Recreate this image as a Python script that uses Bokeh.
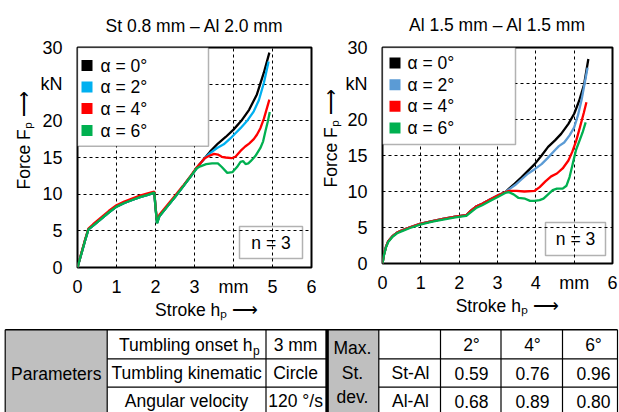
from bokeh.plotting import figure
from bokeh.models import Range1d, FixedTicker, Label, BoxAnnotation
from bokeh.layouts import column, row
from bokeh.embed import file_html
from bokeh.resources import INLINE
from bokeh.core.properties import value

FONT = "Liberation Sans"
NB = "\u00a0"

# ---------------- data ----------------
titles = ["St 0.8 mm \u2013 Al 2.0 mm", "Al 1.5 mm \u2013 Al 1.5 mm"]
y_title = "Force F\u209a \u27f6"
x_title = "Stroke h\u209a \u27f6"
legend_labels = ["\u03b1 = 0\u00b0", "\u03b1 = 2\u00b0", "\u03b1 = 4\u00b0", "\u03b1 = 6\u00b0"]
n_label = "n = 3"
x_ticks = [0, 1, 2, 3, 4, 5, 6]
y_ticks = [0, 5, 10, 15, 20, 25, 30]
y_unit_tick = 25
st_unit_tick = 4
al_unit_tick = 5
colors_st = ["#000000", "#00b0f0", "#ff0000", "#00b050"]
colors_al = ["#000000", "#5b9bd5", "#ff0000", "#00b050"]

# St 0.8 mm - Al 2.0 mm
st_a0_x = [0, 0.1, 0.2, 0.28, 0.4, 0.6, 0.8, 1.0, 1.2, 1.4, 1.6, 1.8, 1.97, 2.0, 2.04, 2.1, 2.3, 2.5, 2.7, 2.9, 3.05,
           3.15, 3.26, 3.4, 3.6, 3.8, 4.0, 4.2, 4.4, 4.6, 4.78, 4.92]
st_a0_y = [0, 1.9, 3.8, 5.2, 5.7, 6.6, 7.5, 8.3, 8.8, 9.2, 9.6, 9.9, 10.2, 8.2, 6.1, 7.0, 8.3, 9.6, 11.0, 12.4, 13.5,
           14.2, 14.9, 15.8, 16.9, 17.8, 18.8, 20.0, 21.5, 23.6, 26.6, 29.3]
st_a2_x = [0, 0.1, 0.2, 0.28, 0.4, 0.6, 0.8, 1.0, 1.2, 1.4, 1.6, 1.8, 1.97, 2.0, 2.04, 2.1, 2.3, 2.5, 2.7, 2.9, 3.05,
           3.15, 3.26, 3.4, 3.58, 3.75, 3.92, 4.05, 4.18, 4.35, 4.52, 4.65, 4.78, 4.9]
st_a2_y = [0, 1.9, 3.8, 5.2, 5.7, 6.6, 7.5, 8.3, 8.8, 9.2, 9.6, 9.9, 10.2, 8.2, 6.1, 7.0, 8.3, 9.6, 11.0, 12.4, 13.5,
           14.2, 14.9, 15.6, 16.3, 16.8, 17.6, 18.3, 19.0, 20.0, 21.3, 22.8, 25.2, 28.1]
st_a4_x = [0, 0.1, 0.2, 0.28, 0.4, 0.6, 0.8, 1.0, 1.2, 1.4, 1.6, 1.8, 1.97, 2.0, 2.04, 2.1, 2.3, 2.5, 2.7, 2.9, 3.05,
           3.15, 3.26, 3.37, 3.5, 3.6, 3.7, 3.8, 3.95, 4.05, 4.18, 4.3, 4.4, 4.52, 4.6, 4.69, 4.78, 4.85, 4.92]
st_a4_y = [0, 2.0, 3.9, 5.3, 5.9, 6.8, 7.7, 8.5, 9.0, 9.4, 9.8, 10.1, 10.35, 8.3, 6.3, 7.2, 8.5, 9.8, 11.1, 12.5, 13.6,
           14.2, 14.9, 15.2, 15.5, 15.4, 15.1, 15.0, 14.9, 15.1, 15.9, 16.5, 16.9, 17.5, 18.1, 19.0, 20.3, 21.6, 22.9]
st_a6_x = [0, 0.1, 0.2, 0.28, 0.4, 0.6, 0.8, 1.0, 1.2, 1.4, 1.6, 1.8, 1.97, 2.0, 2.04, 2.1, 2.3, 2.5, 2.7, 2.9, 3.05,
           3.15, 3.3, 3.45, 3.6, 3.7, 3.84, 3.97, 4.09, 4.18, 4.25, 4.31, 4.38, 4.44, 4.56, 4.69, 4.76, 4.82, 4.88, 4.93]
st_a6_y = [0, 1.9, 3.8, 5.2, 5.7, 6.6, 7.5, 8.3, 8.8, 9.2, 9.6, 9.9, 10.2, 8.2, 6.0, 7.0, 8.3, 9.6, 11.0, 12.4, 13.5,
           13.8, 14.1, 14.2, 14.2, 13.7, 12.9, 13.0, 13.7, 14.4, 14.5, 14.1, 14.2, 14.5, 15.2, 16.3, 17.2, 18.6, 19.9, 21.2]

# Al 1.5 mm - Al 1.5 mm
al_a0_x = [0, 0.04, 0.09, 0.15, 0.26, 0.38, 0.51, 0.7, 0.98, 1.3, 1.58, 1.9, 2.18, 2.3, 2.44, 2.6, 2.78, 3.03, 3.2,
           3.3, 3.45, 3.63, 3.8, 3.97, 4.15, 4.32, 4.5, 4.66, 4.85, 5.0, 5.13, 5.26, 5.37]
al_a0_y = [0, 1.3, 2.3, 3.1, 3.8, 4.3, 4.6, 5.0, 5.5, 5.9, 6.2, 6.5, 6.7, 7.3, 7.9, 8.3, 8.8, 9.5, 9.9,
           10.4, 11.1, 12.0, 12.9, 13.8, 15.0, 16.2, 17.1, 18.0, 19.4, 20.8, 22.6, 24.9, 28.4]
al_a2_x = [0, 0.04, 0.09, 0.15, 0.26, 0.38, 0.51, 0.7, 0.98, 1.3, 1.58, 1.9, 2.18, 2.3, 2.44, 2.6, 2.78, 3.03, 3.2,
           3.3, 3.46, 3.63, 3.8, 3.97, 4.15, 4.3, 4.49, 4.6, 4.74, 4.88, 5.0, 5.1, 5.2, 5.28, 5.35]
al_a2_y = [0, 1.3, 2.3, 3.1, 3.8, 4.3, 4.6, 5.0, 5.5, 5.9, 6.2, 6.5, 6.7, 7.3, 7.9, 8.3, 8.8, 9.5, 9.9,
           10.3, 10.9, 11.7, 12.5, 13.1, 13.8, 14.6, 15.7, 16.3, 16.8, 17.8, 18.9, 20.6, 22.9, 25.2, 27.2]
al_a4_x = [0, 0.04, 0.09, 0.15, 0.26, 0.38, 0.51, 0.7, 0.98, 1.3, 1.58, 1.9, 2.18, 2.3, 2.44, 2.6, 2.78, 3.03, 3.2,
           3.3, 3.5, 3.7, 3.97, 4.1, 4.25, 4.4, 4.55, 4.7, 4.85, 4.95, 5.05, 5.15, 5.25, 5.32]
al_a4_y = [0, 1.3, 2.3, 3.1, 3.8, 4.3, 4.6, 5.0, 5.5, 5.9, 6.2, 6.5, 6.7, 7.3, 7.9, 8.3, 8.8, 9.5, 9.9,
           10.1, 10.1, 10.0, 10.1, 10.6, 11.4, 12.1, 12.5, 13.2, 14.3, 15.5, 17.0, 18.9, 20.9, 22.4]
al_a6_x = [0, 0.04, 0.09, 0.15, 0.26, 0.38, 0.51, 0.7, 0.98, 1.3, 1.58, 1.9, 2.18, 2.3, 2.44, 2.6, 2.78, 3.03, 3.2,
           3.3, 3.42, 3.55, 3.72, 3.85, 3.97, 4.1, 4.2, 4.3, 4.44, 4.55, 4.7, 4.8, 4.88, 4.96, 5.05, 5.15, 5.22, 5.3]
al_a6_y = [0, 1.2, 2.2, 3.0, 3.7, 4.2, 4.5, 4.9, 5.4, 5.8, 6.1, 6.4, 6.6, 7.1, 7.7, 8.1, 8.6, 9.3, 9.8,
           9.9, 9.6, 9.1, 9.0, 8.7, 8.7, 8.8, 9.0, 9.5, 10.2, 10.4, 10.4, 10.8, 12.0, 13.8, 15.8, 17.2, 18.2, 19.6]

# table
param_header = "Parameters"
param_names = ["Tumbling onset h", "Tumbling kinematic", "Angular velocity"]
param_sub = "p"
param_values = ["3 mm", "Circle", "120 \u00b0/s"]
dev_header = ["Max.", "St.", "dev."]
dev_angles = ["2\u00b0", "4\u00b0", "6\u00b0"]
dev_pairs = ["St-Al", "Al-Al"]
dev_st_al = [0.59, 0.76, 0.96]
dev_al_al = [0.68, 0.89, 0.80]


# ---------------- charts ----------------
def make_chart(title, xs, ys, colors, unit_tick, cfg):
    L, R, T, B = cfg["frame"]
    xspan = x_ticks[-1] - x_ticks[0]
    yspan = y_ticks[-1] - y_ticks[0]

    def dx(rx):
        return (rx - L) / (R - L) * xspan

    def dy(ry):
        return (B - ry) / (B - T) * yspan

    bl, br, bt, bb = cfg["borders"]
    p = figure(frame_width=cfg["fw"], frame_height=cfg["fh"], min_border_left=bl, min_border_right=br,
               min_border_top=bt, min_border_bottom=bb,
               x_range=Range1d(x_ticks[0], x_ticks[-1]), y_range=Range1d(y_ticks[0], y_ticks[-1]),
               output_backend="svg", toolbar_location=None, tools="", title=title)
    p.title.text_font = FONT
    p.title.text_font_size = "17.5px"
    p.title.text_font_style = "normal"
    p.title.text_color = "black"
    p.title.align = "center"
    p.title.vertical_align = "top"
    p.title.offset = cfg["title_offset"]
    p.title.standoff = cfg["title_standoff"]

    p.background_fill_color = "white"
    p.border_fill_color = "white"
    p.outline_line_color = "black"
    p.outline_line_width = 2
    p.outline_line_alpha = 1

    p.xaxis.ticker = FixedTicker(ticks=x_ticks)
    p.yaxis.ticker = FixedTicker(ticks=y_ticks)
    p.xaxis.major_label_overrides = {unit_tick: "mm"}
    p.yaxis.major_label_overrides = {y_unit_tick: "kN"}
    for ax in (p.xaxis[0], p.yaxis[0]):
        ax.axis_line_color = None
        ax.major_tick_line_color = None
        ax.minor_tick_line_color = None
        ax.major_tick_in = 0
        ax.major_tick_out = 0
        ax.minor_tick_in = 0
        ax.minor_tick_out = 0
        ax.major_label_text_font = FONT
        ax.major_label_text_font_size = "18px"
        ax.major_label_text_color = "black"
        ax.axis_label_text_font = FONT
        ax.axis_label_text_font_size = "17.5px"
        ax.axis_label_text_font_style = "normal"
        ax.axis_label_text_color = "black"
    p.xaxis.major_label_standoff = 9
    p.yaxis.major_label_standoff = cfg["ystand"]
    p.yaxis.axis_label = NB * cfg["y_pad"] + y_title
    p.xaxis.axis_label = NB * cfg["x_pad"] + x_title
    p.yaxis.axis_label_standoff = cfg["ylab_stand"]
    p.xaxis.axis_label_standoff = 0

    p.xgrid.ticker = FixedTicker(ticks=x_ticks[1:-1])
    p.ygrid.ticker = FixedTicker(ticks=y_ticks[1:-1])
    for g in (p.xgrid[0], p.ygrid[0]):
        g.grid_line_color = "black"
        g.grid_line_dash = "3 3"
        g.grid_line_width = 1
        g.grid_line_alpha = 1

    for x, y, c in zip(xs, ys, colors):
        p.line(x, y, line_color=c, line_width=2.3)

    # legend box
    lb = cfg["legend"]
    p.add_layout(BoxAnnotation(left=dx(L), right=dx(lb["right"]), top=dy(T), bottom=dy(lb["bottom"]),
                               fill_color="white", fill_alpha=1, line_color="black", line_width=1.5))
    for lab, c, ry in zip(legend_labels, colors, lb["rows"]):
        p.add_layout(BoxAnnotation(left=dx(lb["sx"] - 5.5), right=dx(lb["sx"] + 5.5),
                                   top=dy(ry - 5.5), bottom=dy(ry + 5.5),
                                   fill_color=c, fill_alpha=1, line_color=None))
        p.add_layout(Label(x=dx(lb["tx"]), y=dy(ry), text=lab, text_font=FONT, text_font_size="17.5px",
                           text_baseline="middle", text_align="left", text_color="black"))

    # n = 3 box
    nb = cfg["nbox"]
    p.add_layout(BoxAnnotation(left=dx(nb[0]), right=dx(nb[1]), top=dy(nb[2]), bottom=dy(nb[3]),
                               fill_alpha=0, line_color="black", line_width=1.5))
    p.add_layout(Label(x=dx((nb[0] + nb[1]) / 2), y=dy((nb[2] + nb[3]) / 2), text=n_label,
                       text_font=FONT, text_font_size="17.5px", text_baseline="middle",
                       text_align="center", text_color="black"))
    return p


CFG_ST = dict(frame=(77.0, 311.0, 43.0, 263.0), borders=(77, 5, 43, 65), fw=234, fh=220, ystand=15,
              ylab_stand=4, title_offset=-6, title_standoff=19, y_pad=7, x_pad=5,
              legend=dict(right=208, bottom=141.7, sx=86.5, tx=100, rows=[61, 82.5, 104, 126]),
              nbox=(239, 302, 222, 254))
CFG_AL = dict(frame=(382.0, 612.0, 47.0, 263.0), borders=(66, 7, 47, 65), fw=230, fh=216, ystand=15,
              ylab_stand=2, title_offset=5, title_standoff=21, y_pad=7, x_pad=4,
              legend=dict(right=515, bottom=144, sx=394.5, tx=407, rows=[62.5, 84.2, 105.8, 127.5]),
              nbox=(545, 605, 222, 255))

p1 = make_chart(titles[0], [st_a0_x, st_a2_x, st_a4_x, st_a6_x], [st_a0_y, st_a2_y, st_a4_y, st_a6_y],
                colors_st, st_unit_tick, CFG_ST)
p2 = make_chart(titles[1], [al_a0_x, al_a2_x, al_a4_x, al_a6_x], [al_a0_y, al_a2_y, al_a4_y, al_a6_y],
                colors_al, al_unit_tick, CFG_AL)

# ---------------- table ----------------
t = figure(width=619, height=84, x_range=Range1d(0, 619), y_range=Range1d(412, 328),
           min_border_left=0, min_border_right=0, min_border_top=0, min_border_bottom=0,
           x_axis_location=None, y_axis_location=None, output_backend="svg",
           toolbar_location=None, tools="", title=None)
t.grid.visible = False
t.outline_line_color = None
t.background_fill_color = "white"
t.border_fill_color = "white"

ROWS = [329.3, 358.3, 386.7, 415.0]
XL = [4.7, 106.7, 265.5]
XTHICK = 326.6
XR = [378.3, 440.0, 500.5, 562.0, 617.0]
GREY = "#bfbfbf"

t.quad(left=[XL[0], XTHICK + 1.5], right=[XL[1], XR[0]], top=[ROWS[0], ROWS[0]], bottom=[ROWS[3], ROWS[3]],
       fill_color=GREY, line_color=None)

hx0, hx1, hy = [], [], []
for r in ROWS[1:3]:
    hx0 += [XL[1], XR[0]]
    hx1 += [XTHICK, XR[-1]]
    hy += [r, r]
t.segment(x0=hx0, y0=hy, x1=hx1, y1=hy, line_color="black", line_width=1.2)
t.segment(x0=[XL[0]], y0=[ROWS[0]], x1=[XR[-1]], y1=[ROWS[0]], line_color="black", line_width=1.5)
vx = XL + XR
t.segment(x0=vx, y0=[ROWS[0]] * len(vx), x1=vx, y1=[ROWS[3]] * len(vx), line_color="black", line_width=1.2)
t.segment(x0=[XTHICK], y0=[ROWS[0]], x1=[XTHICK], y1=[ROWS[3]], line_color="black", line_width=3.5)

TXT = dict(text_font=value(FONT), text_font_size=value("17.5px"), text_color="black",
           text_baseline="middle")
MID = [344.8, 372.8, 400.5]

t.text(x=[(XL[0] + XL[1]) / 2], y=[373.2], text=[param_header], text_align="center", **TXT)
t.text(x=[252.0], y=[MID[0]], text=[param_names[0]], text_align="right", **TXT)
t.text(x=[252.5], y=[MID[0] + 5.5], text=[param_sub], text_align="left", text_baseline="middle",
       text_font=value(FONT), text_font_size=value("12px"), text_color="black")
t.text(x=[(XL[1] + XL[2]) / 2] * 2, y=MID[1:], text=param_names[1:], text_align="center", **TXT)
t.text(x=[(XL[2] + XTHICK) / 2 - 1] * 3, y=MID, text=param_values, text_align="center", **TXT)
t.text(x=[352.0] * 3, y=[347.0, 372.0, 396.0], text=dev_header, text_align="center", **TXT)
vcols = [471.0, 532.0, 593.0]
t.text(x=vcols, y=[MID[0]] * 3, text=dev_angles, text_align="center", **TXT)
t.text(x=[410.0] * 2, y=MID[1:], text=dev_pairs, text_align="center", **TXT)
t.text(x=vcols, y=[MID[1]] * 3, text=["%.2f" % v for v in dev_st_al], text_align="center", **TXT)
t.text(x=vcols, y=[MID[2]] * 3, text=["%.2f" % v for v in dev_al_al], text_align="center", **TXT)

layout = column(row(p1, p2, spacing=0), t, spacing=0)
open("out.html", "w").write(file_html(layout, INLINE))
